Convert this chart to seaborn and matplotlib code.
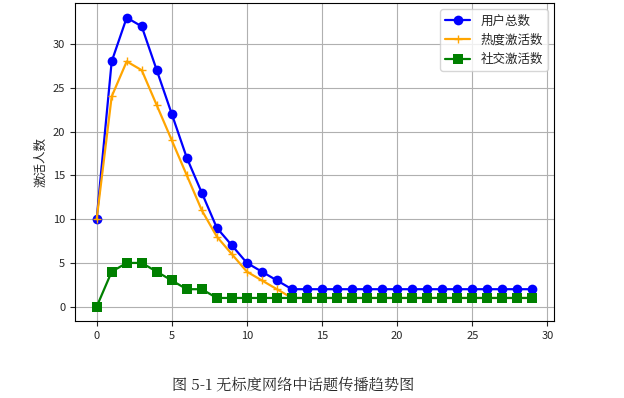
import numpy as np
import pandas as pd
import matplotlib
matplotlib.use("Agg")
import matplotlib.pyplot as plt
import seaborn as sns

steps = list(range(30))
total_users = [10, 28, 33, 32, 27, 22, 17, 13, 9, 7, 5, 4, 3, 2] + [2] * 16
heat_active = [10, 24, 28, 27, 23, 19, 15, 11, 8, 6, 4, 3, 2, 1] + [1] * 16
social_active = [0, 4, 5, 5, 4, 3, 2, 2, 1, 1, 1, 1, 1, 1] + [1] * 16

series_names = ["用户总数", "热度激活数", "社交激活数"]
colors = ["blue", "orange", "green"]
markers = ["o", "+", "s"]

sns.set_style("ticks")
plt.rcParams['font.family'] = ['Noto Sans CJK SC', 'DejaVu Sans']
plt.rcParams['axes.unicode_minus'] = False

df = pd.DataFrame({
    "step": steps * 3,
    "count": total_users + heat_active + social_active,
    "series": sum([[n] * len(steps) for n in series_names], []),
})

fig = plt.figure(figsize=(6.24, 3.98), dpi=100)
ax = fig.add_axes([0.12, 0.193, 0.768, 0.799])

for name, c, m in zip(series_names, colors, markers):
    sub = df[df["series"] == name]
    sns.lineplot(data=sub, x="step", y="count", color=c, marker=m,
                 markersize=7 if m != "+" else 6, markeredgewidth=1 if m == "+" else 0,
                 markeredgecolor=c, linewidth=1.6, label=name, ax=ax)

ax.grid(True, color="#b0b0b0", linewidth=0.8)
ax.set_xlabel("")
ax.set_ylabel("激活人数", fontsize=9)
ax.set_xticks([0, 5, 10, 15, 20, 25, 30])
ax.set_yticks([0, 5, 10, 15, 20, 25, 30])
ax.tick_params(labelsize=8)
for s in ax.spines.values():
    s.set_visible(True)
    s.set_color("black")
    s.set_linewidth(0.8)
ax.legend(loc="upper right", fontsize=9, framealpha=0.8)

fig.text(0.47, 0.032, "图 5-1 无标度网络中话题传播趋势图", ha="center", va="center",
         fontsize=11, family=['Noto Serif CJK SC', 'Noto Sans CJK SC', 'DejaVu Serif'])

fig.savefig("out.png", dpi=100)
